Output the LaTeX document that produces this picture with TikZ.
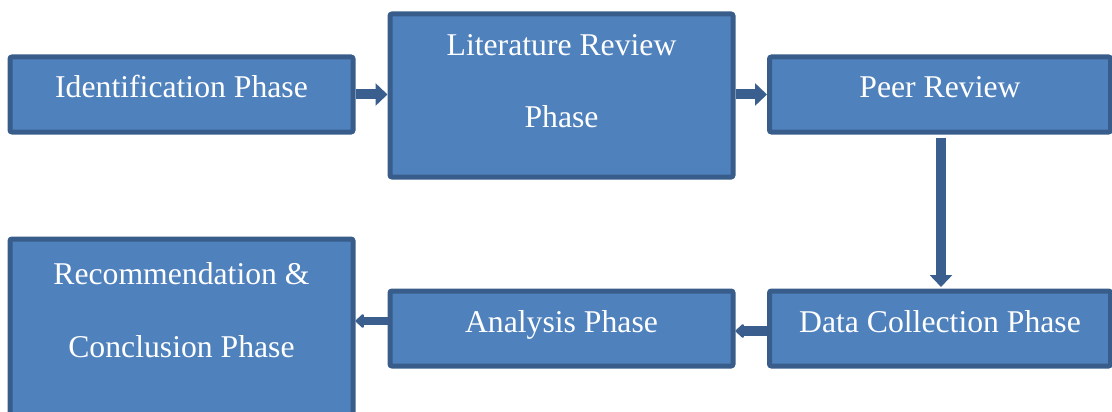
\documentclass[tikz,border=0pt]{standalone}
\usepackage{fontspec}
\setmainfont{Liberation Serif}
\usetikzlibrary{arrows.meta}

\definecolor{phasefill}{HTML}{4F81BD}
\definecolor{phaseline}{HTML}{385D8A}
\definecolor{flowline}{HTML}{3A5F8E}

\begin{document}
\begin{tikzpicture}[x=1pt,y=-1pt,
    phase/.style={draw=phaseline,fill=phasefill,line width=5pt,rounded corners=2pt,
        minimum width=343pt,text=white,align=center,
        font=\fontsize{31.7}{73}\selectfont},
    oneline/.style={phase,minimum height=75pt,text height=31pt,text depth=24pt},
    flow/.style={draw=flowline,line width=10pt},
    bigtip/.style={-{Triangle[width=22pt,length=12pt]}},
    smalltip/.style={-{Triangle[width=16pt,length=9pt,round]}}]
    \useasboundingbox (0,0) rectangle (1112,412);

    % top row
    \node[oneline] (ident) at (181.5,94.5) {Identification Phase};
    \node[phase,minimum height=163pt,text height=96pt,text depth=31pt] (litrev) at (561.5,95.5) {Literature Review\\Phase};
    \node[oneline,minimum width=341pt] (peer) at (940,94.5) {Peer Review};

    % bottom row
    \node[oneline,minimum width=341pt] (datacoll) at (940,328.5) {Data Collection Phase};
    \node[oneline] (analysis) at (561.5,328.5) {Analysis Phase};
    \node[phase,minimum height=179pt,text height=95pt,text depth=38pt] (recom) at (181.5,328.5) {Recommendation \&\\Conclusion Phase};

    \draw[flow,bigtip] (ident.east) -- (ident.east -| litrev.west);
    \draw[flow,bigtip] (litrev.east |- peer.west) -- (peer.west);
    \draw[flow,bigtip,shorten <=3.5pt,shorten >=1.5pt] ([xshift=1pt]peer.south) -- ([xshift=1pt]datacoll.north);
    \draw[flow,smalltip] ([yshift=-2.5pt]datacoll.west) -- ([yshift=-2.5pt]analysis.east);
    \draw[flow,smalltip,line width=8pt] ([yshift=7.5pt]analysis.west) -- ([yshift=7.5pt]analysis.west -| recom.east);
\end{tikzpicture}
\end{document}
